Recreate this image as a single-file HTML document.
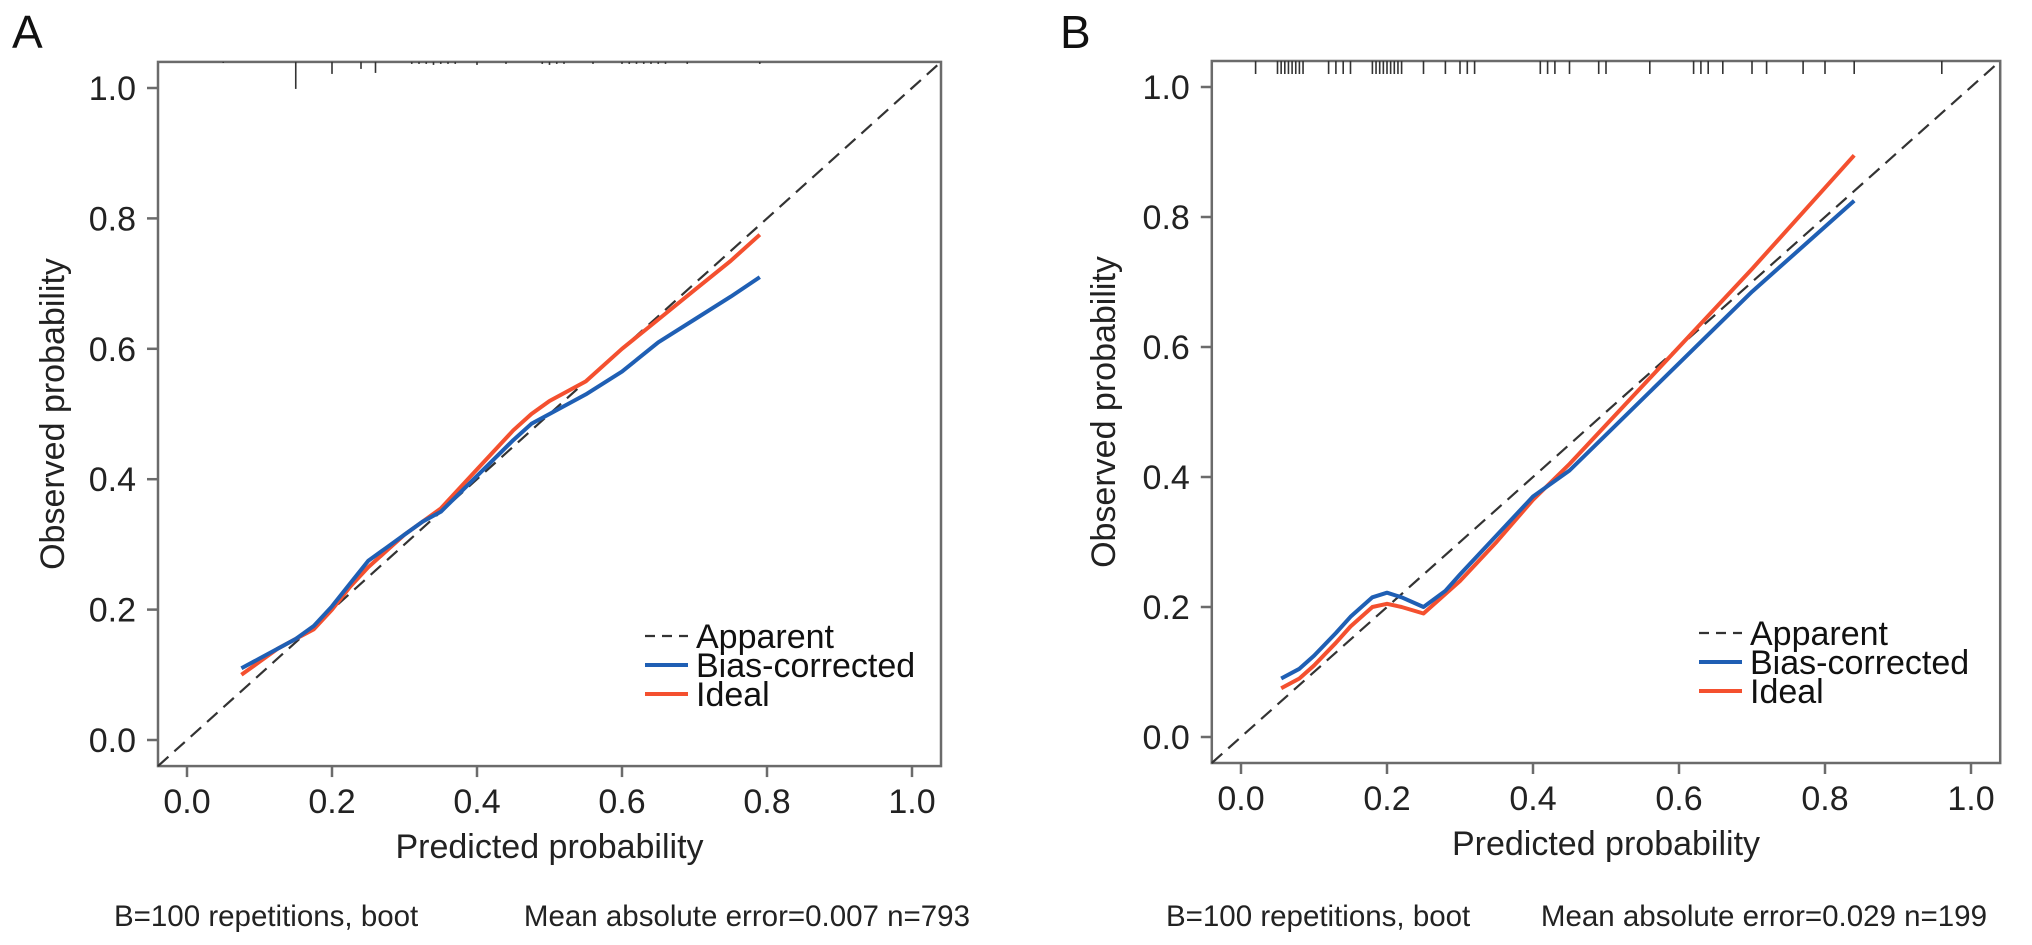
<!DOCTYPE html>
<html><head><meta charset="utf-8">
<style>
html,body{margin:0;padding:0;background:#fff;}
svg{display:block;font-family:"Liberation Sans",Arial,sans-serif;}
</style></head>
<body>
<svg id="fig" width="2032" height="945" viewBox="0 0 2032 945" xmlns="http://www.w3.org/2000/svg"></svg>
<script>
// ---- Panel A data ----
const aPred = [0.075,0.1,0.125,0.15,0.175,0.2,0.225,0.25,0.275,0.3,0.325,0.35,0.4,0.45,0.475,0.5,0.55,0.6,0.65,0.7,0.75,0.79];
const aBias = [0.11,0.125,0.14,0.155,0.175,0.205,0.24,0.275,0.295,0.315,0.335,0.35,0.405,0.46,0.485,0.5,0.53,0.565,0.61,0.645,0.68,0.71];
const aIdeal= [0.10,0.12,0.14,0.155,0.17,0.2,0.235,0.265,0.29,0.315,0.335,0.355,0.415,0.475,0.5,0.52,0.55,0.6,0.645,0.69,0.735,0.775];
const aRugX = [0.05,0.15,0.2,0.24,0.26,0.31,0.32,0.33,0.34,0.35,0.36,0.37,0.4,0.44,0.49,0.5,0.51,0.52,0.56,0.6,0.61,0.62,0.63,0.64,0.65,0.66,0.69,0.79];
const aRugLen = [1,27,12,7,11,2,2,2,3,2,2,2,3,2,2,3,2,2,2,2,2,2,2,2,2,2,2,2];
// ---- Panel B data ----
const bPred = [0.055,0.08,0.1,0.13,0.15,0.18,0.2,0.22,0.25,0.28,0.3,0.35,0.4,0.45,0.5,0.6,0.7,0.8,0.84];
const bBias = [0.09,0.105,0.125,0.16,0.185,0.215,0.222,0.215,0.2,0.225,0.25,0.31,0.37,0.41,0.465,0.575,0.685,0.785,0.825];
const bIdeal= [0.075,0.09,0.11,0.145,0.17,0.2,0.205,0.2,0.19,0.22,0.24,0.3,0.365,0.42,0.48,0.6,0.72,0.845,0.895];
const bRugX = [0.02,0.05,0.055,0.06,0.065,0.07,0.075,0.08,0.085,0.12,0.13,0.14,0.15,0.18,0.185,0.19,0.195,0.2,0.205,0.21,0.215,0.22,0.25,0.28,0.3,0.31,0.32,0.41,0.42,0.43,0.45,0.49,0.5,0.56,0.62,0.63,0.64,0.66,0.7,0.72,0.77,0.8,0.84,0.96];
const ticks = [0,0.2,0.4,0.6,0.8,1.0];
const tickLabels = ["0.0","0.2","0.4","0.6","0.8","1.0"];

const NS="http://www.w3.org/2000/svg";
const svg=document.getElementById('fig');
function el(tag,attrs,parent){const e=document.createElementNS(NS,tag);for(const k in attrs)e.setAttribute(k,attrs[k]);(parent||svg).appendChild(e);return e;}

function panel(cfg){
  const g=el('g',{});
  
  
  const sx=v=>cfg.x0+v*cfg.kx, sy=v=>cfg.y0-v*cfg.ky;
  const L=sx(-0.04),R=sx(1.04),T=sy(1.04),B=sy(-0.04);
  const box=el('rect',{x:L,y:T,width:R-L,height:B-T,fill:'none',stroke:'#6b6b6b','stroke-width':2.5},g);
  
  
  ticks.forEach((t,i)=>{
    const xt=el('line',{x1:sx(t),x2:sx(t),y1:B,y2:B+11,stroke:'#6b6b6b','stroke-width':2.5},g);
    
    
    const xl=el('text',{x:sx(t),y:B+47,'font-size':34,'text-anchor':'middle',fill:'#222'},g);xl.textContent=tickLabels[i];
    
    
    const yt=el('line',{x1:L-11,x2:L,y1:sy(t),y2:sy(t),stroke:'#6b6b6b','stroke-width':2.5},g);
    
    
    const yl=el('text',{x:L-22,y:sy(t)+12,'font-size':34,'text-anchor':'end',fill:'#222'},g);yl.textContent=tickLabels[i];
    
    
  });
  cfg.rugX.forEach((r,i)=>{
    const len=cfg.rugLen?cfg.rugLen[i]:13;
    const rl=el('line',{x1:sx(r),x2:sx(r),y1:T,y2:T+len,stroke:'#333','stroke-width':1.6},g);
    
    
  });
  const d=el('line',{x1:L,y1:B,x2:R,y2:T,stroke:'#333','stroke-width':2.2,'stroke-dasharray':'14 8'},g);
  
  
  const path=(ys)=>cfg.pred.map((p,i)=>(i?'L':'M')+sx(p).toFixed(1)+' '+sy(ys[i]).toFixed(1)).join(' ');
  const pi=el('path',{d:path(cfg.ideal),fill:'none',stroke:'#f4502f','stroke-width':4,'stroke-linejoin':'round'},g);
  
  
  const pb=el('path',{d:path(cfg.bias),fill:'none',stroke:'#1f5fb4','stroke-width':4,'stroke-linejoin':'round'},g);
  
  
  const lx=cfg.x0+458, tx=cfg.x0+509, ly=cfg.y0-104;
  const items=[['Apparent','#333','10 7'],['Bias-corrected','#1f5fb4',''],['Ideal','#f4502f','']];
  items.forEach((it,i)=>{
    const y=ly+i*29;
    const ln=el('line',{x1:lx,x2:lx+43,y1:y,y2:y,stroke:it[1],'stroke-width':it[2]?2.2:4},g);
    if(it[2])ln.setAttribute('stroke-dasharray',it[2]);
    
    
    const t=el('text',{x:tx,y:y+12,'font-size':34,fill:'#111'},g);t.textContent=it[0];
    
    
  });
  const xt=el('text',{x:(sx(0)+sx(1))/2,y:B+92,'font-size':34,'text-anchor':'middle',fill:'#222'},g);xt.textContent='Predicted probability';
  
  
  const cy=(sy(0)+sy(1))/2;
  const yt=el('text',{x:cfg.ytx,y:cy,'font-size':34,'text-anchor':'middle',fill:'#222',transform:'rotate(-90 '+cfg.ytx+' '+cy+')'},g);yt.textContent='Observed probability';
  
  
  const f1=el('text',{x:cfg.f1x,y:926,'font-size':29.5,fill:'#222'},g);f1.textContent='B=100 repetitions, boot';
  
  
  const f2=el('text',{x:cfg.f2x,y:926,'font-size':29.5,'text-anchor':'end',fill:'#222'},g);f2.textContent=cfg.mae;
  
  
  const lab=el('text',{x:cfg.labx,y:48,'font-size':46,fill:'#111'},g);lab.textContent=cfg.id;
  
  
}
panel({id:'A',x0:187,kx:725,y0:740,ky:652,pred:aPred,bias:aBias,ideal:aIdeal,rugX:aRugX,rugLen:aRugLen,ytx:64,f1x:114,f2x:970,mae:'Mean absolute error=0.007 n=793',labx:12});
panel({id:'B',x0:1241,kx:730,y0:737,ky:650,pred:bPred,bias:bBias,ideal:bIdeal,rugX:bRugX,ytx:1115,f1x:1166,f2x:1987,mae:'Mean absolute error=0.029 n=199',labx:1060});
</script>
</body></html>
